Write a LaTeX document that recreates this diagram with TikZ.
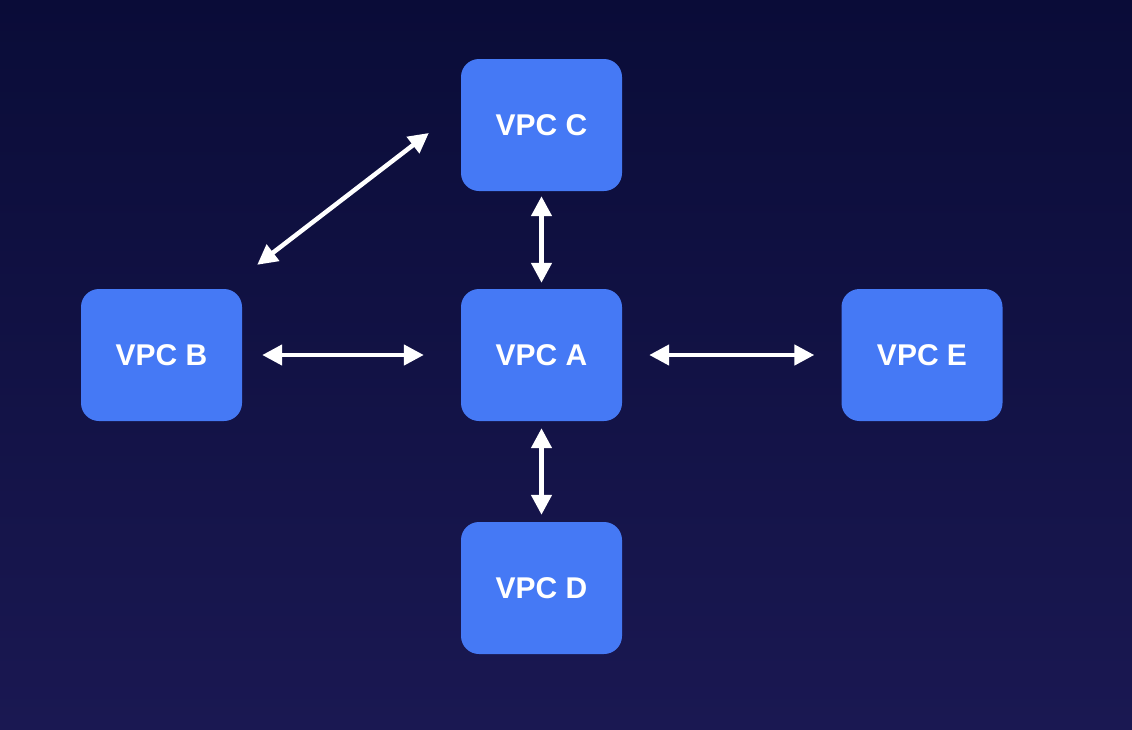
\documentclass[tikz,border=0pt]{standalone}
\usepackage{fontspec}
\setmainfont{Liberation Sans}
\usetikzlibrary{arrows.meta}
\definecolor{bgtop}{HTML}{0A0C38}
\definecolor{bgbot}{HTML}{1A1852}
\definecolor{vpcblue}{HTML}{4579F5}
\begin{document}
\begin{tikzpicture}[x=1pt,y=-1pt,
		vpc/.style={fill=vpcblue, rounded corners=18pt, minimum width=161pt, minimum height=132pt, inner sep=0pt, text=white, font=\fontsize{30}{36}\selectfont\bfseries},
		link/.style={white, line width=4.5pt, {Triangle[length=20pt,width=20pt]}-{Triangle[length=20pt,width=20pt]}}]
			\shade[top color=bgtop, bottom color=bgbot] (0,0) rectangle (1132,729);
			\useasboundingbox (0,0) rectangle (1132,729);
			\node[vpc] (C) at (541.5,125) {VPC C};
			\node[vpc] (A) at (541.5,355) {VPC A};
			\node[vpc] (B) at (161.5,355) {VPC B};
			\node[vpc] (E) at (922,355) {VPC E};
			\node[vpc] (D) at (541.5,588) {VPC D};
			\draw[link] ([xshift=15pt,yshift=24pt]B.north east) -- ([xshift=-32pt,yshift=-8pt]C.west);
			\draw[link, shorten <=20pt, shorten >=37pt] (B) -- (A);
			\draw[link, shorten <=27pt, shorten >=27pt] (A) -- (E);
			\draw[link, shorten <=5pt, shorten >=6pt] (C) -- (A);
			\draw[link, shorten <=7pt, shorten >=7pt] (A) -- (D);
		\end{tikzpicture}
\end{document}
